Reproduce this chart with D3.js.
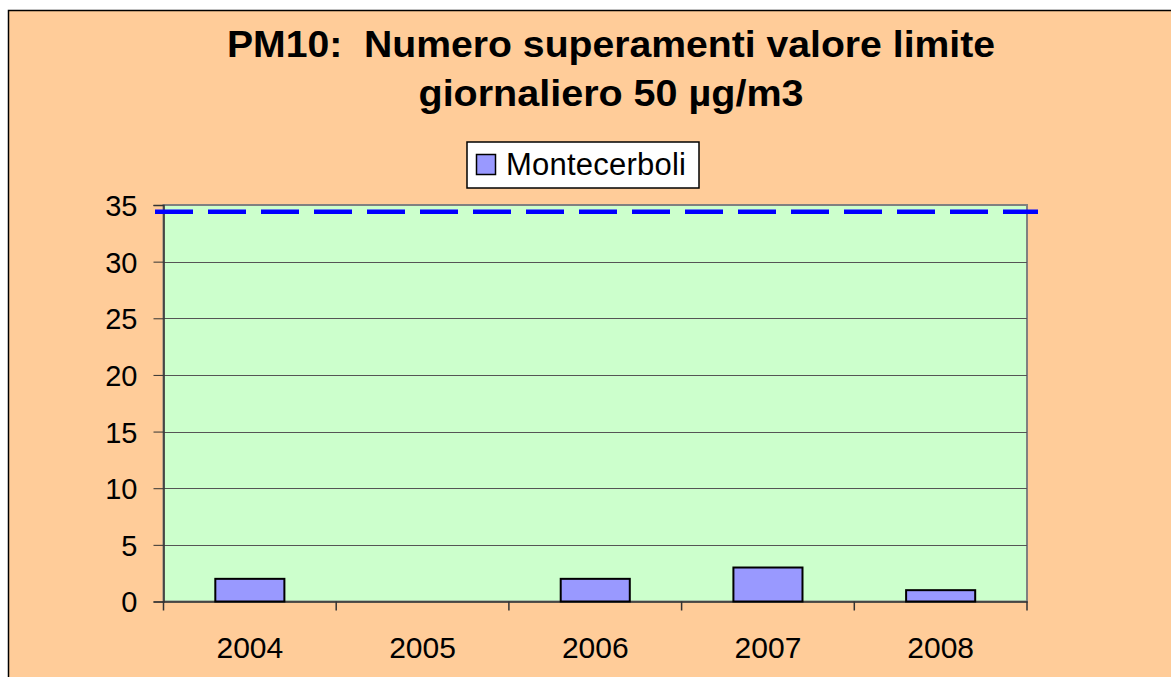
<!DOCTYPE html>
<html><head><meta charset="utf-8">
<script src="https://cdn.jsdelivr.net/npm/d3@7"></script>
<style>body{margin:0;background:#fff;}svg{display:block;font-family:"Liberation Sans",Arial,sans-serif;}</style>
</head><body>
<svg id="c" width="1171" height="677"></svg>
<script>
const categories = ["2004","2005","2006","2007","2008"];
const seriesName = "Montecerboli";
const values = [2,0,2,3,1];
const limitValue = [34.4];
const yTicks = [0,5,10,15,20,25,30,35];
const titleLines = ["PM10:  Numero superamenti valore limite","giornaliero 50 µg/m3"];

const svg = d3.select("#c");
svg.append("rect").attr("x",8.5).attr("y",10.5).attr("width",1180).attr("height",700)
  .attr("fill","#FFCC99").attr("stroke","#000").attr("stroke-width",1.5);

const L=163.5,R=1027,T=205,B=601.5;
const x = d3.scaleBand().domain(categories).range([L,R]).paddingInner(0.6).paddingOuter(0.3);
const xc = d3.scaleBand().domain(categories).range([L,R]);
const y = d3.scaleLinear().domain([0,35]).range([B,T]);

svg.append("rect").attr("x",L).attr("y",T).attr("width",R-L).attr("height",B-T)
  .attr("fill","#CCFFCC").attr("stroke","#808080").attr("stroke-width",2);

// gridlines
svg.append("g").selectAll("line").data(yTicks.filter(d=>d>0&&d<35)).join("line")
  .attr("x1",L).attr("x2",R).attr("y1",d=>Math.round(y(d))+0.5).attr("y2",d=>Math.round(y(d))+0.5)
  .attr("stroke","#555").attr("stroke-width",1);

// y axis
const ya = svg.append("g").attr("transform",`translate(${L},0)`)
  .call(d3.axisLeft(y).tickValues(yTicks).tickSize(10).tickPadding(16));
ya.attr("font-size",null).attr("font-family",null);
ya.select(".domain").attr("stroke","#333").attr("stroke-width",1.5);
ya.selectAll(".tick line").attr("stroke","#333");
ya.selectAll("text").style("font-size","29px").attr("fill","#000").attr("dy","0.36em");

// x axis
const xa = svg.append("g").attr("transform",`translate(0,${B})`)
  .call(d3.axisBottom(xc).tickSize(0));
xa.attr("font-size",null).attr("font-family",null);
xa.select(".domain").attr("stroke","#333").attr("stroke-width",1.5);
xa.selectAll("text").style("font-size","30px").attr("fill","#000").attr("y",56.5).attr("dy",null);
// category boundary ticks
const bounds = categories.map(c=>xc(c)).concat([xc(categories[categories.length-1])+xc.bandwidth()]);
svg.append("g").selectAll("line").data(bounds).join("line")
  .attr("x1",d=>d).attr("x2",d=>d).attr("y1",B).attr("y2",B+9).attr("stroke","#333").attr("stroke-width",1.5);

// bars
svg.append("g").selectAll("rect").data(values.map((v,i)=>({c:categories[i],v})).filter(d=>d.v>0)).join("rect")
  .attr("x",d=>x(d.c)).attr("width",x.bandwidth())
  .attr("y",d=>y(d.v)).attr("height",d=>B-y(d.v))
  .attr("fill","#9999FF").attr("stroke","#000").attr("stroke-width",2);

// limit dashed line
svg.append("g").selectAll("line").data(limitValue).join("line")
  .attr("x1",155).attr("x2",1038).attr("y1",d=>y(d)).attr("y2",d=>y(d))
  .attr("stroke","#0000FF").attr("stroke-width",4.5).attr("stroke-dasharray","38,15");

// legend
const lg = svg.append("g");
lg.append("rect").attr("x",467).attr("y",142).attr("width",232).attr("height",46)
  .attr("fill","#fff").attr("stroke","#000").attr("stroke-width",1.5);
lg.append("rect").attr("x",476.5).attr("y",154.5).attr("width",19).attr("height",20)
  .attr("fill","#9999FF").attr("stroke","#000").attr("stroke-width",1.5);
lg.append("text").attr("x",506).attr("y",175).attr("font-size",31).attr("textLength",180).text(seriesName);

// title
const tl = [768,385];
svg.append("g").selectAll("text").data(titleLines).join("text")
  .attr("x",611).attr("y",(d,i)=>57+i*49).attr("text-anchor","middle")
  .attr("font-size",36).attr("font-weight","bold")
  .attr("textLength",(d,i)=>tl[i]).attr("lengthAdjust","spacingAndGlyphs")
  .style("white-space","pre").text(d=>d);
</script>
</body></html>
